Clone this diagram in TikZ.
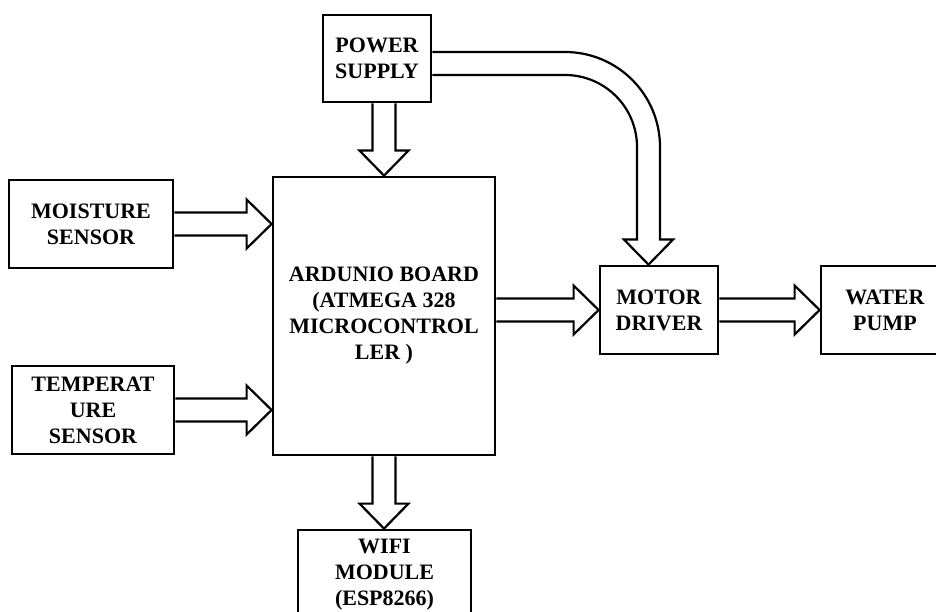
\documentclass[tikz,border=0pt]{standalone}
\usepackage{fontspec}
\setmainfont{Liberation Serif}
\usepackage{tikz}
\usetikzlibrary{calc}

\tikzset{
  unitbox/.style={draw,line width=2.8pt,align=center,inner sep=2pt,
    font=\bfseries\fontsize{22}{26}\selectfont},
  blockarrow/.style={draw,line width=2.2pt,line join=miter,fill=white}
}
% hollow block arrows: shaft half width 11.5pt, head half width 24.5pt, head length 25pt
\newcommand{\harrow}[2]{%
  \draw[blockarrow] let \p1=(#1), \p2=(#2) in
    (\x1,{\y1+11.5pt}) -- ({\x2-25pt},{\y1+11.5pt}) -- ({\x2-25pt},{\y1+24.5pt})
    -- (\x2,\y1) -- ({\x2-25pt},{\y1-24.5pt}) -- ({\x2-25pt},{\y1-11.5pt})
    -- (\x1,{\y1-11.5pt});}
\newcommand{\varrow}[2]{%
  \draw[blockarrow] let \p1=(#1), \p2=(#2) in
    ({\x1-11.5pt},\y1) -- ({\x1-11.5pt},{\y2+25pt}) -- ({\x1-24.5pt},{\y2+25pt})
    -- (\x1,\y2) -- ({\x1+24.5pt},{\y2+25pt}) -- ({\x1+11.5pt},{\y2+25pt})
    -- ({\x1+11.5pt},\y1);}

\begin{document}
\begin{tikzpicture}[x=1pt,y=-1pt]
  \useasboundingbox (0,0) rectangle (936,612);

  % blocks
  \node[unitbox,minimum width=108pt,minimum height=87pt] (ps) at (377,58.5) {POWER\\SUPPLY};
  \node[unitbox,minimum width=222pt,minimum height=278pt] (ard) at (384,316)
    {ARDUNIO BOARD\\(ATMEGA 328\\MICROCONTROL\\LER )};
  \node[unitbox,minimum width=164pt,minimum height=88pt] (ms) at (91,224) {MOISTURE\\SENSOR};
  \node[unitbox,minimum width=162pt,minimum height=88pt] (ts) at (93,410) {TEMPERAT\\URE\\SENSOR};
  \node[unitbox,minimum width=118pt,minimum height=88pt] (md) at (659,310) {MOTOR\\DRIVER};
  \node[unitbox,minimum width=128pt,minimum height=88pt] (wp) at (885,310) {WATER\\PUMP};
  \node[unitbox,minimum width=173pt,minimum height=90pt] (wf) at (384.5,575)
    {WIFI\\MODULE\\(ESP8266)};

  % connectors
  \harrow{ms.east}{ard.west |- ms.east}
  \harrow{ts.east}{ard.west |- ts.east}
  \varrow{ps.south -| ard.north}{ard.north}
  \varrow{ard.south}{wf.north}
  \harrow{ard.east |- md.west}{md.west}
  \harrow{md.east}{wp.west}

  % supply to motor driver
  \draw[blockarrow] let \p1=($(ps.east)+(0,5)$), \p2=($(md.north)+(-10.5,0)$) in
    (\x1,{\y1+11.5pt}) [rounded corners=95pt] -- ({\x2+11.5pt},{\y1+11.5pt})
    [sharp corners] -- ({\x2+11.5pt},{\y2+25pt}) -- ({\x2+24.5pt},{\y2+25pt})
    -- (\x2,\y2) -- ({\x2-24.5pt},{\y2+25pt}) -- ({\x2-11.5pt},{\y2+25pt})
    [rounded corners=72pt] -- ({\x2-11.5pt},{\y1-11.5pt})
    [sharp corners] -- (\x1,{\y1-11.5pt});
\end{tikzpicture}
\end{document}
